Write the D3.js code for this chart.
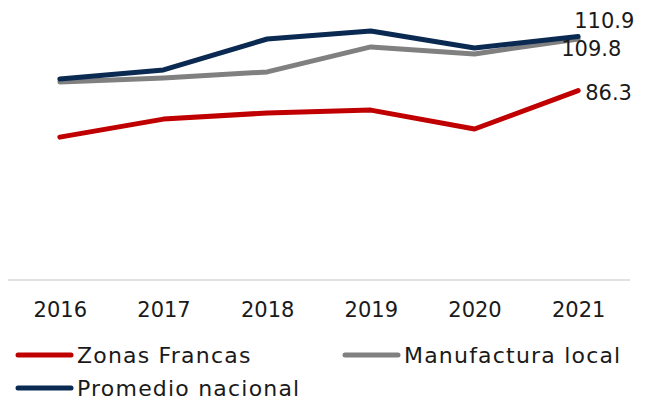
<!DOCTYPE html>
<html>
<head>
<meta charset="utf-8">
<script src="https://cdn.jsdelivr.net/npm/d3@7"></script>
<style>
    body { margin: 0; background: #fff; }
    text { font-family: "DejaVu Sans", sans-serif; fill: #1a1a1a; }
</style>
</head>
<body>
<svg id="chart" width="648" height="400"></svg>
<script>
const years = ["2016", "2017", "2018", "2019", "2020", "2021"];
const zonasFrancas = [65.1, 73.3, 76.1, 77.4, 68.8, 86.3];
const manufacturaLocal = [90.2, 92.0, 94.8, 106.2, 103.0, 109.8];
const promedioNacional = [91.6, 95.7, 109.8, 113.4, 105.7, 110.9];
const seriesNames = ["Zonas Francas", "Manufactura local", "Promedio nacional"];

const colours = ["#C00000", "#808080", "#0B2A52"];
const seriesValues = [zonasFrancas, manufacturaLocal, promedioNacional];

const svg = d3.select('#chart');

const left = 8, right = 630, bottom = 280;

const xScale = d3.scalePoint()
    .domain(years)
    .range([left, right])
    .padding(0.5);

const yScale = d3.scaleLinear()
    .domain([0, 120])
    .range([bottom, bottom - 120 * 2.195]);

// baseline
svg.append('line')
    .attr('x1', left)
    .attr('x2', right)
    .attr('y1', yScale(0))
    .attr('y2', yScale(0))
    .attr('stroke', '#d9d9d9')
    .attr('stroke-width', 1.5);

const xAxis = svg.append('g')
    .attr('transform', `translate(0, ${bottom})`)
    .call(d3.axisBottom(xScale).tickSize(0).tickPadding(22));
xAxis.select('.domain').remove();
xAxis.selectAll('text')
    .style('font-size', '21px')
    .style('font-family', '"DejaVu Sans", sans-serif')
    .attr('fill', '#1a1a1a');

const line = d3.line()
    .x((d, i) => xScale(years[i]))
    .y(d => yScale(d));

// gray first, then red, navy on top
[1, 0, 2].forEach(k => {
    svg.append('path')
        .datum(seriesValues[k])
        .attr('fill', 'none')
        .attr('stroke', colours[k])
        .attr('stroke-width', 5)
        .attr('stroke-linecap', 'round')
        .attr('stroke-linejoin', 'round')
        .attr('d', line);
});

// end labels
const last = years.length - 1;
const endLabels = [
    { k: 2, dx: -4, dy: -9 },
    { k: 1, dx: -17, dy: 17 },
    { k: 0, dx: 7, dy: 9 }
];
endLabels.forEach(l => {
    const v = seriesValues[l.k][last];
    svg.append('text')
        .attr('x', xScale(years[last]) + l.dx)
        .attr('y', yScale(v) + l.dy)
        .style('font-size', '21px')
        .text(v.toFixed(1));
});

// legend
const legendPos = [[18, 355], [345, 355], [18, 388]];
seriesNames.forEach((name, i) => {
    const [lx, ly] = legendPos[i];
    svg.append('line')
        .attr('x1', lx)
        .attr('x2', lx + 53)
        .attr('y1', ly)
        .attr('y2', ly)
        .attr('stroke', colours[i])
        .attr('stroke-width', 5)
        .attr('stroke-linecap', 'round');
    svg.append('text')
        .attr('x', lx + 59)
        .attr('y', ly + 8)
        .style('font-size', '22px')
        .style('letter-spacing', '1.2px')
        .text(name);
});
</script>
</body>
</html>
